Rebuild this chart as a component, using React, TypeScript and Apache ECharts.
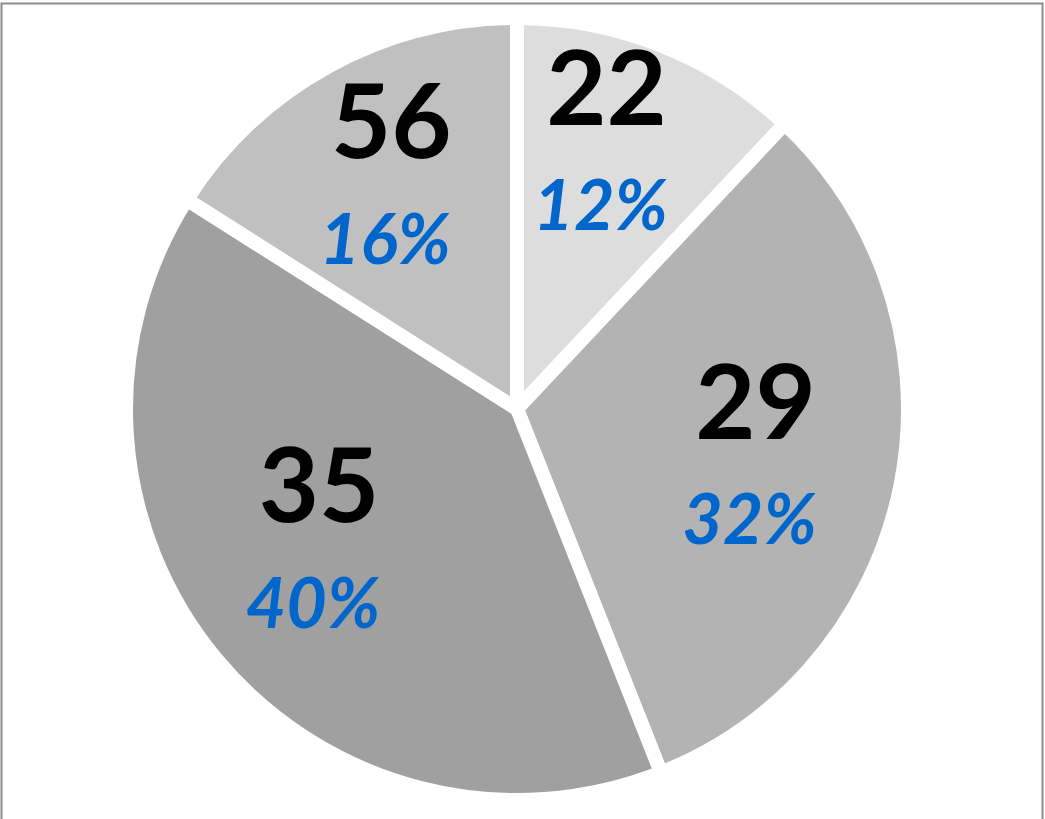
import React, { useEffect, useRef } from "react";
import * as echarts from "echarts";

const sliceLabels = ["22", "29", "35", "56"];
const sliceShares = [12, 32, 40, 16];
const sliceColors = ["#dddddd", "#b3b3b3", "#a0a0a0", "#c0c0c0"];
const labelNudgeY = [-32, -5, -37, -12];
const labelNudgeX = [-5, -14, 0, -2];

export default function App() {
  const ref = useRef<HTMLDivElement>(null);
  useEffect(() => {
    if (!ref.current) return;
    const chart = echarts.init(ref.current, undefined, { renderer: "svg" });
    const data = sliceLabels.map((name, i) => ({
      name,
      value: sliceShares[i],
      itemStyle: { color: sliceColors[i] },
    }));
    const R = 391;
    chart.setOption({
      animation: false,
      backgroundColor: "#ffffff",
      graphic: [
        {
          type: "rect",
          shape: { x: 1.5, y: 3.5, width: 1041, height: 830 },
          style: { fill: "none", stroke: "#8c8c8c", lineWidth: 2 },
          silent: true,
        },
      ],
      series: [
        {
          type: "pie",
          center: [517, 409],
          radius: [0, R],
          startAngle: 90,
          clockwise: true,
          silent: true,
          data,
          itemStyle: { borderColor: "#ffffff", borderWidth: 14 },
          label: { show: false },
          labelLine: { show: false },
        },
        {
          type: "pie",
          center: [517, 409],
          radius: [0, Math.round(0.66 * 385 * 2)],
          startAngle: 90,
          clockwise: true,
          silent: true,
          z: 5,
          data: sliceLabels.map((name, i) => ({ name, value: sliceShares[i] })),
          itemStyle: { color: "transparent", borderWidth: 0 },
          labelLine: { show: false },
          label: {
            show: true,
            position: "inside",
            formatter: (p: any) => `{n|${p.name}}\n{p|${p.percent}%}`,
            rich: {
              n: {
                fontFamily: "Lato",
                fontWeight: "bold",
                fontSize: 104,
                lineHeight: 130,
                color: "#000000",
                align: "center",
              },
              p: {
                fontFamily: "Lato",
                fontWeight: "bold",
                fontStyle: "italic",
                fontSize: 70,
                lineHeight: 108,
                color: "#0066cc",
                align: "center",
                padding: [0, 12, 0, 0],
              },
            },
          },
          labelLayout: (params: any) => ({
            dx: labelNudgeX[params.dataIndex],
            dy: labelNudgeY[params.dataIndex],
          }),
        },
      ],
    });
    return () => chart.dispose();
  }, []);
  return (
    <div
      ref={ref}
      style={{ position: "fixed", left: 0, top: 0, width: 1045, height: 819 }}
    />
  );
}
